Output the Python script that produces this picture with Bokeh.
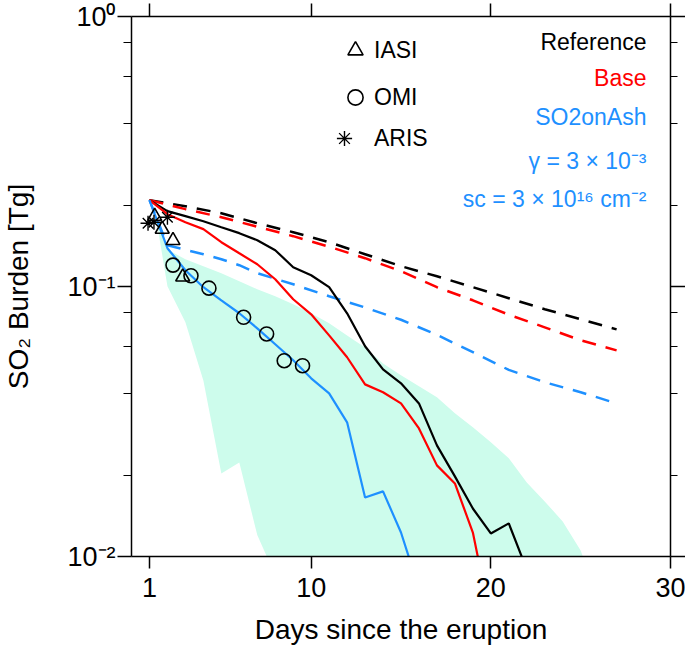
from bokeh.plotting import figure
from bokeh.models import (Range1d, FixedTicker, LinearAxis, LogAxis, Label,
                          Legend, LegendItem)
from bokeh.embed import file_html
from bokeh.resources import INLINE

FONT = "Liberation Sans"
BLUE = "#1e90ff"
RED = "#ff0000"
SHADE = "#cdfcec"

# ---------------- axis ticks ----------------
x_ticks = [1, 10, 20, 30]
y_ticks = [0.01, 0.1, 1.0]
y_tick_labels = ["10⁻²", "10⁻¹", "10⁰"]
y_minor_ticks = [0.02, 0.04, 0.06, 0.08, 0.2, 0.4, 0.6, 0.8]

# ---------------- model runs (solid) ----------------
ref_days = list(range(1, 23))
ref_solid = [0.2089, 0.1901, 0.1822, 0.1745, 0.1658, 0.1576, 0.1484, 0.1363,
             0.1179, 0.1101, 0.0994, 0.0796, 0.0601, 0.0493, 0.0438, 0.0369,
             0.0258, 0.0198, 0.01506, 0.01217, 0.01326, 0.00895]

base_days = list(range(1, 21))
base_solid = [0.2089, 0.1853, 0.1730, 0.1631, 0.1459, 0.1328, 0.1209, 0.1064,
              0.0897, 0.0789, 0.0659, 0.0547, 0.0434, 0.0406, 0.0369, 0.0298,
              0.02175, 0.01865, 0.01227, 0.0058]

ash_days = list(range(1, 17))
ash_solid = [0.2089, 0.1386, 0.1149, 0.0994, 0.0889, 0.0796, 0.0700, 0.0611,
             0.0533, 0.0457, 0.0402, 0.0314, 0.01655, 0.01742, 0.01227, 0.0076]

# ---------------- dashed runs ----------------
dash_days = [1, 3, 5, 7, 9, 11, 13, 15, 17, 19, 21, 23, 25, 27]
ref_dash = [0.2089, 0.1983, 0.1868, 0.1715, 0.1589, 0.1459, 0.1317, 0.1189,
            0.1091, 0.0994, 0.0905, 0.0824, 0.0756, 0.0694]
base_dash = [0.2089, 0.1934, 0.1806, 0.1665, 0.1536, 0.1404, 0.1273, 0.1139,
             0.0994, 0.0889, 0.0786, 0.0706, 0.0632, 0.0580]
ash_dash_days = [1, 2, 3, 4, 5, 6, 7, 9, 11, 13, 15, 17, 19, 21, 23, 25, 27]
ash_dash = [0.2089, 0.1422, 0.1368, 0.1317, 0.1262, 0.1199, 0.1120, 0.1019,
            0.0920, 0.0836, 0.0753, 0.0662, 0.0571, 0.0491, 0.0442, 0.0406, 0.0369]

# ---------------- ensemble spread (shaded) ----------------
band_up_days = list(range(1, 27))
band_up = [0.2089, 0.1370, 0.1262, 0.1189, 0.1120, 0.1046, 0.0977, 0.0920,
           0.0859, 0.0796, 0.0731, 0.0659, 0.0595, 0.0519, 0.0469, 0.0427,
           0.0389, 0.0339, 0.0301, 0.0265, 0.0231, 0.0188, 0.0160, 0.01348,
           0.01053, 0.0069]
band_lo_days = [1, 1.5, 2, 3, 4, 5, 6, 7, 7.5, 8]
band_lo = [0.2089, 0.1589, 0.1002, 0.0737, 0.0449, 0.0203, 0.0223, 0.0120,
           0.0101, 0.0075]

# ---------------- observations ----------------
iasi_days = [1.29, 1.71, 2.31, 2.85]
iasi = [0.182, 0.163, 0.148, 0.1085]
omi_days = [2.31, 3.31, 4.31, 6.24, 7.52, 8.50, 9.52]
omi = [0.120, 0.1096, 0.0986, 0.0769, 0.0667, 0.0531, 0.0509]
aris_days = [0.92, 1.25, 2.0]
aris = [0.1715, 0.173, 0.1806]

# ---------------- annotation texts ----------------
ann_texts = ["Reference", "Base", "SO2onAsh", "γ = 3 × 10⁻³", "sc = 3 × 10¹⁶ cm⁻²"]
ann_colors = ["black", RED, BLUE, BLUE, BLUE]

p = figure(width=685, height=650, x_range=Range1d(0, 30), y_range=Range1d(0.01, 1),
           y_axis_type="log", output_backend="svg", toolbar_location=None,
           min_border_left=130, min_border_right=15, min_border_top=16,
           min_border_bottom=94)
p.outline_line_color = None
p.grid.visible = False
p.background_fill_color = "white"
p.border_fill_color = "white"

# shaded band
p.patch(band_up_days + band_lo_days[::-1], band_up + band_lo[::-1],
        fill_color=SHADE, line_color=None)

# dashed
p.line(dash_days, ref_dash, line_color="black", line_width=2.5, line_dash="14 10")
p.line(dash_days, base_dash, line_color=RED, line_width=2.5, line_dash="14 10")
p.line(ash_dash_days, ash_dash, line_color=BLUE, line_width=2.5, line_dash="14 10")

# solid
p.line(ref_days, ref_solid, line_color="black", line_width=2.2)
p.line(base_days, base_solid, line_color=RED, line_width=2.2)
p.line(ash_days, ash_solid, line_color=BLUE, line_width=2.2)

# observations
r_iasi = p.scatter(iasi_days, iasi, marker="triangle", size=14, fill_color=None,
                   line_color="black", line_width=1.6)
r_omi = p.scatter(omi_days, omi, marker="circle", size=14, fill_color=None,
                  line_color="black", line_width=1.6)
r_aris = p.scatter(aris_days, aris, marker="asterisk", size=15,
                   line_color="black", line_width=1.4)

# axes
xa = p.xaxis[0]
ya = p.yaxis[0]
xa.ticker = FixedTicker(ticks=x_ticks)
ya.ticker = FixedTicker(ticks=y_ticks, minor_ticks=y_minor_ticks)
ya.major_label_overrides = dict(zip(y_ticks, y_tick_labels))

for ax in (xa, ya):
    ax.axis_line_width = 1.5
    ax.axis_line_color = "black"
    ax.major_tick_line_width = 1.5
    ax.minor_tick_line_width = 1.2
    ax.major_tick_in = 0
    ax.minor_tick_in = 0
    ax.major_label_text_font = FONT
    ax.major_label_text_font_size = "27px"
    ax.major_label_text_color = "black"
    ax.axis_label_text_font = FONT
    ax.axis_label_text_font_size = "28px"
    ax.axis_label_text_font_style = "normal"
    ax.axis_label_text_color = "black"

xa.major_tick_out = 12
xa.minor_tick_out = 0
xa.major_label_standoff = 9
xa.axis_label = "Days since the eruption"
xa.axis_label_standoff = 14

ya.major_tick_out = 14
ya.minor_tick_out = 8
ya.major_label_standoff = 2
ya.axis_label = "SO₂ Burden [Tg]"
ya.axis_label_standoff = 30

# frame axes on top and right: ticks only, no labels
top = LinearAxis(ticker=FixedTicker(ticks=x_ticks), major_tick_out=13, major_tick_in=0,
                 minor_tick_out=0, minor_tick_in=0,
                 major_label_overrides={t: "" for t in x_ticks},
                 major_label_text_font_size="1px", major_label_text_color=None,
                 major_label_standoff=0, axis_line_width=1.5, major_tick_line_width=1.5)
p.add_layout(top, "above")

right = LogAxis(ticker=FixedTicker(ticks=y_ticks, minor_ticks=y_minor_ticks),
                major_tick_out=15, major_tick_in=0, minor_tick_out=7, minor_tick_in=0,
                major_label_overrides={t: "" for t in y_ticks},
                major_label_text_font_size="1px", major_label_text_color=None,
                major_label_standoff=0, axis_line_width=1.5,
                major_tick_line_width=1.5, minor_tick_line_width=1.2)
p.add_layout(right, "right")

# marker legends (one per entry so rows can be placed like the original)
leg_specs = [("IASI", r_iasi, (205, 487), 0),
             ("OMI", r_omi, (205, 440), 0),
             ("ARIS", r_aris, (194, 399), 11)]
for name, rend, loc, stand in leg_specs:
    lg = Legend(items=[LegendItem(label=name, renderers=[rend])], location=loc,
                glyph_width=38, glyph_height=38, label_standoff=stand, padding=0,
                margin=0, border_line_color=None, background_fill_alpha=0,
                label_text_font=FONT, label_text_font_size="23px",
                label_text_color="black")
    p.add_layout(lg, "center")

ann_y = [515, 479, 440, 396, 358]
for txt, col, yy in zip(ann_texts, ann_colors, ann_y):
    p.add_layout(Label(x=515, y=yy, x_units="screen", y_units="screen", text=txt,
                       text_align="right", text_baseline="middle", text_font=FONT,
                       text_font_size="23px", text_color=col))

open("out.html", "w").write(file_html(p, INLINE))
